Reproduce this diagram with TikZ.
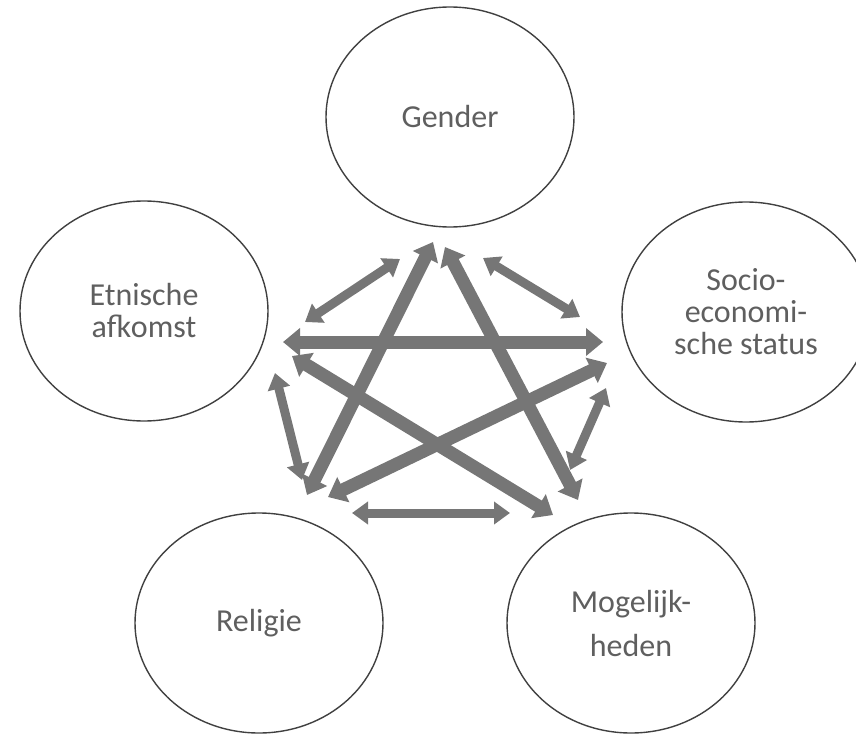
\documentclass[tikz,border=0pt]{standalone}
\usepackage{fontspec}
\setmainfont{Carlito}
\usetikzlibrary{arrows.meta,shapes.geometric}
\definecolor{pijlgrijs}{RGB}{118,118,118}
\definecolor{tekstgrijs}{RGB}{95,95,95}

\begin{document}
\begin{tikzpicture}[x=1pt, y=-1pt,
  kring/.style={ellipse, draw=black!75, line width=1.4pt, minimum width=248pt, minimum height=220pt,
    inner sep=0pt, align=center, text=tekstgrijs, font=\fontsize{32}{32}\selectfont},
  dikpijl/.style={draw=pijlgrijs, line width=13pt,
    {Triangle[width=27pt,length=17pt]}-{Triangle[width=27pt,length=17pt]}},
  dunpijl/.style={draw=pijlgrijs, line width=9pt,
    {Triangle[width=22pt,length=16pt]}-{Triangle[width=22pt,length=16pt]}}]

  \useasboundingbox (0,0) rectangle (856,733);

  % de vijf kringen
  \node[kring] (gender)  at (450,117) {Gender};
  \node[kring] (etnisch) at (144,311) {Etnische\\afkomst};
  \node[kring] (socio)   at (746,312) {Socio-\\economi-\\sche status};
  \node[kring] (religie) at (259,623) {Religie};
  \node[kring] (kansen)  at (631,623) {Mogelijk-\\[12pt]heden};

  % eindpunten van de pijlen
  \coordinate (gE) at (400,259);  \coordinate (eG) at (305,322);
  \coordinate (gS) at (483,258);  \coordinate (sG) at (580,317);
  \coordinate (gR) at (433,242);  \coordinate (rG) at (307,495);
  \coordinate (gM) at (445,247);  \coordinate (mG) at (578,500);
  \coordinate (eS) at (283,342);  \coordinate (sE) at (603,342);
  \coordinate (eM) at (292,356);  \coordinate (mE) at (553,515);
  \coordinate (sR) at (607,363);  \coordinate (rS) at (328,497);
  \coordinate (eR) at (275,373);  \coordinate (rE) at (302,480);
  \coordinate (sM) at (606,388);  \coordinate (mS) at (570,470);
  \coordinate (rM) at (352,513);  \coordinate (mR) at (510,513);

  % lange pijlen (ster)
  \draw[dikpijl] (rG) -- (gR);
  \draw[dikpijl] (gM) -- (mG);
  \draw[dikpijl] (eM) -- (mE);
  \draw[dikpijl] (rS) -- (sR);
  \draw[dikpijl] (eS) -- (sE);

  % korte pijlen (vijfhoek)
  \draw[dunpijl] (eG) -- (gE);
  \draw[dunpijl] (gS) -- (sG);
  \draw[dunpijl] (eR) -- (rE);
  \draw[dunpijl] (sM) -- (mS);
  \draw[dunpijl] (rM) -- (mR);

\end{tikzpicture}
\end{document}
